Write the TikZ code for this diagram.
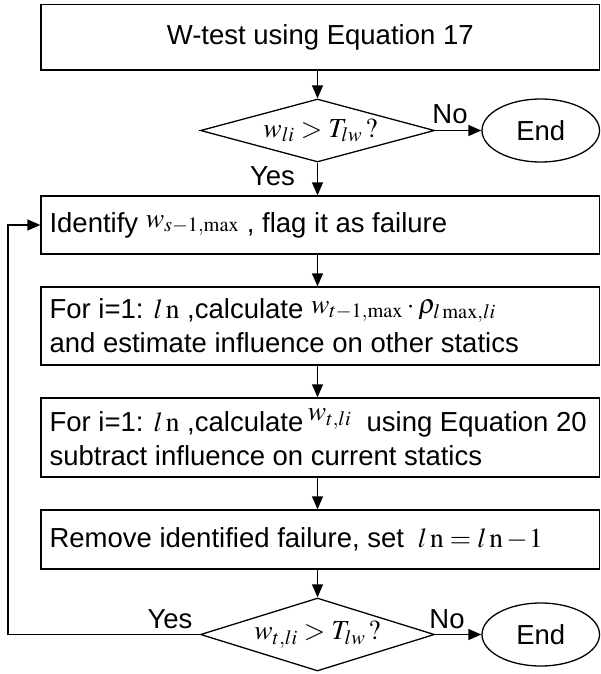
\documentclass[tikz,border=0pt]{standalone}
\usepackage{mathptmx}
\usepackage[no-math]{fontspec}
\setmainfont{Liberation Sans}
\usetikzlibrary{shapes.geometric,arrows.meta}

\begin{document}
\begin{tikzpicture}[x=1pt,y=-1pt,
  every node/.style={font=\fontsize{27.5}{34}\selectfont},
  box/.style={draw, line width=1.3pt, rectangle, minimum width=558.5pt, inner sep=0pt},
  txt/.style={anchor=west, align=left, inner sep=0pt},
  decision/.style={draw, diamond, line width=1.3pt, minimum width=234pt, inner sep=0pt},
  terminal/.style={draw, ellipse, line width=1.3pt, minimum width=117.5pt, minimum height=63pt, inner sep=0pt},
  arr/.style={line width=1.3pt, -{Triangle[length=13pt,width=11pt]}},
  lbl/.style={inner sep=0pt}]
\useasboundingbox (0,0) rectangle (601,674);

% process boxes
\node[box, minimum height=65.5pt] (b1) at (320.25,37.25) {};
\node[box, minimum height=58pt]   (b2) at (320.25,225) {};
\node[box, minimum height=78pt]   (b3) at (320.25,326) {};
\node[box, minimum height=79pt]   (b4) at (320.25,437.5) {};
\node[box, minimum height=59pt]   (b5) at (320.25,539.5) {};

% box texts
\node[lbl] (b1t) at (b1) {W-test using Equation 17};
\node[txt] (b2t) at ([xshift=9pt]b2.west)
  {Identify \raisebox{5pt}{$w_{s-1,\max}$} , flag it as failure};
\node[txt] (b3t) at ([xshift=9pt]b3.west)
  {For i=1: $l\,\mathrm{n}$ ,calculate \raisebox{5pt}{$w_{t-1,\max}\cdot\rho_{l\max,li}$}\\
   and estimate influence on other statics};
\node[txt] (b4t) at ([xshift=9pt]b4.west)
  {For i=1: $l\,\mathrm{n}$ ,calculate\,\raisebox{11pt}{$w_{t,li}$} \ using Equation 20\\
   subtract influence on current statics};
\node[txt] (b5t) at ([xshift=9pt]b5.west)
  {Remove identified failure, set $\;l\,\mathrm{n}=l\,\mathrm{n}\mkern2mu{-}\mkern1mu1$};

% decisions
\node[decision, minimum height=63pt] (d1) at (317.5,130.5) {};
\node[lbl] (d1t) at ([xshift=3pt]d1) {$w_{li} > T_{lw}\,?$};
\node[decision, minimum height=73pt] (d2) at (317.5,634.5) {};
\node[lbl] (d2t) at (d2) {$w_{t,li} > T_{lw}\,?$};

% terminals
\node[terminal] (e1) at (540.75,130.5) {End};
\node[terminal] (e2) at (540.75,634.5) {End};

% connectors
\draw[arr] (d1.north |- b1.south) -- (d1.north);
\draw[arr] (d1.south) -- (d1.south |- b2.north);
\draw[arr] (d1.south |- b2.south) -- (d1.south |- b3.north);
\draw[arr] (d1.south |- b3.south) -- (d1.south |- b4.north);
\draw[arr] (d1.south |- b4.south) -- (d1.south |- b5.north);
\draw[arr] (d2.north |- b5.south) -- (d2.north);
\draw[arr] (d1.east) -- (e1.west);
\draw[arr] (d2.east) -- (e2.west);

% loop back
\coordinate (lx) at (8,0);
\draw[arr] (d2.west) -- (d2.west -| lx) |- (b2.west);

% branch labels
\node[lbl] (y1) at (272.5,176) {Yes};
\node[lbl] (n1) at (450,114) {No};
\node[lbl] (y2) at (170,619) {Yes};
\node[lbl] (n2) at (447,619) {No};
\end{tikzpicture}
\end{document}
